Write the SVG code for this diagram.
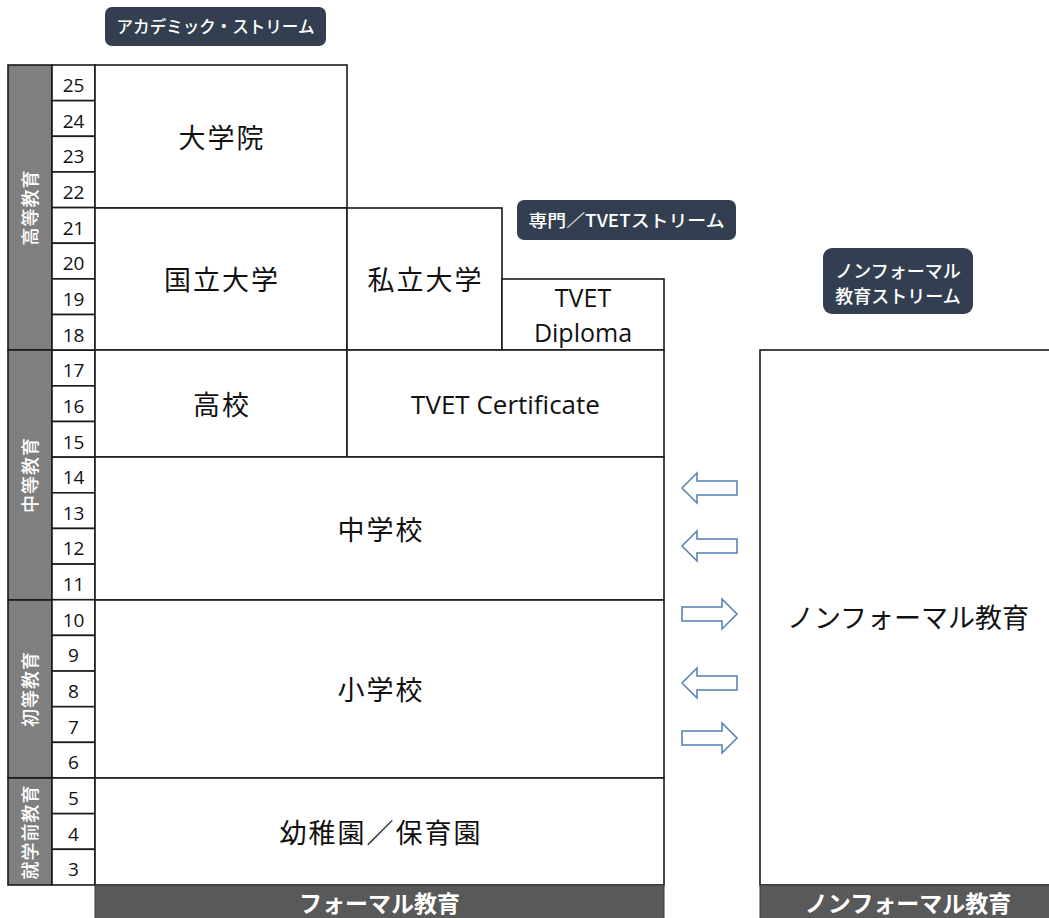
<svg xmlns="http://www.w3.org/2000/svg" width="1049" height="918" viewBox="0 0 1049 918">
<style>
.box{fill:#fff;stroke:#1a1a1a;stroke-width:1.6}
.side{fill:#7f7f7f;stroke:#1a1a1a;stroke-width:1.6}
.bar{fill:#595959;stroke:#3a3a3a;stroke-width:1}
.tag{fill:#333f50}
.num{font-family:"Open Sans","Noto Sans",sans-serif;font-size:19px;fill:#111;text-anchor:middle}
.jp{font-family:"Noto Sans CJK JP",sans-serif;font-size:27px;letter-spacing:2px;fill:#111;text-anchor:middle}
.en{font-family:"Open Sans","Noto Sans","Noto Sans CJK JP",sans-serif;font-size:25px;fill:#111;text-anchor:middle}
.sidet{font-family:"Noto Sans CJK JP",sans-serif;font-size:18px;font-weight:500;letter-spacing:1px;fill:#fff;text-anchor:middle}
.tagt{font-family:"Noto Sans CJK JP",sans-serif;font-size:17px;font-weight:500;fill:#fff;text-anchor:middle}
.bart{font-family:"Noto Sans CJK JP",sans-serif;font-size:23px;font-weight:bold;fill:#fff;text-anchor:middle}
.arr{fill:#fff;stroke:#4f7fb3;stroke-width:1.5}
</style>
<defs>
<path id="la" d="M0,0 L15,-15 L15,-7 L55,-7 L55,7 L15,7 L15,15 Z"/>
</defs>
<rect width="1049" height="918" fill="#fff"/>

<g id="stream-labels">
<g id="academic-tag"><rect class="tag" x="105" y="7" width="221" height="39" rx="7"/><text class="tagt" x="215.5" y="33" textLength="198" lengthAdjust="spacingAndGlyphs">アカデミック・ストリーム</text></g>
<g id="tvet-tag"><rect class="tag" x="517" y="200" width="219" height="40" rx="7"/><text class="tagt" x="626.5" y="227" textLength="196" lengthAdjust="spacingAndGlyphs">専門／TVETストリーム</text></g>
<g id="nonformal-tag"><rect class="tag" x="823" y="248" width="150" height="66" rx="9"/><text class="tagt" style="font-size:18px" x="898" y="278">ノンフォーマル</text><text class="tagt" style="font-size:18px" x="898" y="303">教育ストリーム</text></g>
</g>

<g id="sidebar">
<g id="higher"><rect class="side" x="8" y="65" width="44" height="285"/><text class="sidet" transform="translate(37,207.5) rotate(-90)">高等教育</text></g>
<g id="secondary"><rect class="side" x="8" y="350" width="44" height="250"/><text class="sidet" transform="translate(37,475) rotate(-90)">中等教育</text></g>
<g id="primary"><rect class="side" x="8" y="600" width="44" height="178"/><text class="sidet" transform="translate(37,689) rotate(-90)">初等教育</text></g>
<g id="preschool"><rect class="side" x="8" y="778" width="44" height="107"/><text class="sidet" transform="translate(37,832) rotate(-90)">就学前教育</text></g>
</g>

<g id="ages">
<rect class="box" x="52" y="65.00" width="43" height="35.65"/><text class="num" x="73.5" y="92">25</text>
<rect class="box" x="52" y="100.65" width="43" height="35.65"/><text class="num" x="73.5" y="127.6">24</text>
<rect class="box" x="52" y="136.30" width="43" height="35.65"/><text class="num" x="73.5" y="163.3">23</text>
<rect class="box" x="52" y="171.95" width="43" height="35.65"/><text class="num" x="73.5" y="198.9">22</text>
<rect class="box" x="52" y="207.60" width="43" height="35.65"/><text class="num" x="73.5" y="234.6">21</text>
<rect class="box" x="52" y="243.25" width="43" height="35.65"/><text class="num" x="73.5" y="270.2">20</text>
<rect class="box" x="52" y="278.90" width="43" height="35.65"/><text class="num" x="73.5" y="305.9">19</text>
<rect class="box" x="52" y="314.55" width="43" height="35.65"/><text class="num" x="73.5" y="341.5">18</text>
<rect class="box" x="52" y="350.20" width="43" height="35.65"/><text class="num" x="73.5" y="377.2">17</text>
<rect class="box" x="52" y="385.85" width="43" height="35.65"/><text class="num" x="73.5" y="412.8">16</text>
<rect class="box" x="52" y="421.50" width="43" height="35.65"/><text class="num" x="73.5" y="448.5">15</text>
<rect class="box" x="52" y="457.15" width="43" height="35.65"/><text class="num" x="73.5" y="484.1">14</text>
<rect class="box" x="52" y="492.80" width="43" height="35.65"/><text class="num" x="73.5" y="519.8">13</text>
<rect class="box" x="52" y="528.45" width="43" height="35.65"/><text class="num" x="73.5" y="555.4">12</text>
<rect class="box" x="52" y="564.10" width="43" height="35.65"/><text class="num" x="73.5" y="591.1">11</text>
<rect class="box" x="52" y="599.75" width="43" height="35.65"/><text class="num" x="73.5" y="626.7">10</text>
<rect class="box" x="52" y="635.40" width="43" height="35.65"/><text class="num" x="73.5" y="662.4">9</text>
<rect class="box" x="52" y="671.05" width="43" height="35.65"/><text class="num" x="73.5" y="698.0">8</text>
<rect class="box" x="52" y="706.70" width="43" height="35.65"/><text class="num" x="73.5" y="733.7">7</text>
<rect class="box" x="52" y="742.35" width="43" height="35.65"/><text class="num" x="73.5" y="769.3">6</text>
<rect class="box" x="52" y="778.00" width="43" height="35.65"/><text class="num" x="73.5" y="805.0">5</text>
<rect class="box" x="52" y="813.65" width="43" height="35.65"/><text class="num" x="73.5" y="840.6">4</text>
<rect class="box" x="52" y="849.30" width="43" height="35.65"/><text class="num" x="73.5" y="876.3">3</text>
</g>

<g id="graduate"><rect class="box" x="95" y="65" width="252" height="143"/><text class="jp" x="222" y="148">大学院</text></g>
<g id="national-univ"><rect class="box" x="95" y="208" width="252" height="142"/><text class="jp" x="222" y="290">国立大学</text></g>
<g id="private-univ"><rect class="box" x="347" y="208" width="155" height="142"/><text class="jp" x="425.5" y="290">私立大学</text></g>
<g id="tvet-diploma"><rect class="box" x="502" y="279" width="162" height="71"/><text class="en" x="583" y="307">TVET</text><text class="en" x="583" y="342">Diploma</text></g>
<g id="high-school"><rect class="box" x="95" y="350" width="252" height="107"/><text class="jp" x="222" y="415">高校</text></g>
<g id="tvet-cert"><rect class="box" x="347" y="350" width="317" height="107"/><text class="en" style="font-size:26px" x="505.5" y="414">TVET Certificate</text></g>
<g id="junior-high"><rect class="box" x="95" y="457" width="569" height="143"/><text class="jp" x="381" y="540">中学校</text></g>
<g id="elementary"><rect class="box" x="95" y="600" width="569" height="178"/><text class="jp" x="381" y="700">小学校</text></g>
<g id="kindergarten"><rect class="box" x="95" y="778" width="569" height="107"/><text class="jp" x="381" y="843">幼稚園／保育園</text></g>
<g id="nonformal"><rect class="box" x="760" y="350" width="295" height="535"/><text class="jp" style="letter-spacing:0px" x="908" y="628">ノンフォーマル教育</text></g>

<g id="formal-bar"><rect class="bar" x="95" y="885" width="569" height="40"/><text class="bart" x="379.5" y="912">フォーマル教育</text></g>
<g id="nonformal-bar"><rect class="bar" x="760" y="885" width="295" height="40"/><text class="bart" x="908" y="912">ノンフォーマル教育</text></g>

<g id="connectors">
<use href="#la" class="arr" transform="translate(682,488)"/>
<use href="#la" class="arr" transform="translate(682,546)"/>
<use href="#la" class="arr" transform="translate(737,614) scale(-1,1)"/>
<use href="#la" class="arr" transform="translate(682,683)"/>
<use href="#la" class="arr" transform="translate(737,738) scale(-1,1)"/>
</g>
</svg>
